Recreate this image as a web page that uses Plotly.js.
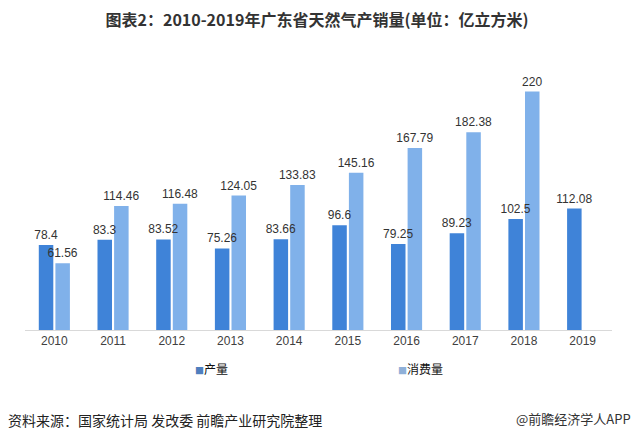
<!DOCTYPE html>
<html>
<head>
<meta charset="utf-8">
<script src="https://cdn.plot.ly/plotly-3.0.1.min.js"></script>
<style>
  html, body { margin: 0; padding: 0; background: #ffffff; }
  #chart { width: 634px; height: 440px; }
</style>
</head>
<body>
<div id="chart"></div>
<script>
// ---- data ----
const years = ['2010','2011','2012','2013','2014','2015','2016','2017','2018','2019'];
const production = [78.4, 83.3, 83.52, 75.26, 83.66, 96.6, 79.25, 89.23, 102.5, 112.08];
const consumption = [61.56, 114.46, 116.48, 124.05, 133.83, 145.16, 167.79, 182.38, 220, null];
const seriesNames = ['产量', '消费量'];
const titleText = '图表2：2010-2019年广东省天然气产销量(单位：亿立方米)';
const sourceText = '资料来源：国家统计局 发改委 前瞻产业研究院整理';
const brandText = '@前瞻经济学人APP';

// ---- layout helpers ----
const W = 634, H = 440;
const M = { l: 25, r: 22, t: 60, b: 110 };
const PW = W - M.l - M.r, PH = H - M.t - M.b;
const px = x => (x - M.l) / PW;
const py = y => (H - M.b - y) / PH;

const cjk = '"Noto Sans CJK SC", "Microsoft YaHei", sans-serif';
const num = '"Liberation Sans Narrow", "Arial Narrow", "Liberation Sans", Arial, sans-serif';
const colProd = '#3f83d8';
const colCons = '#80b1ea';

const fmt = v => (v === null ? '' : String(v));
const labelFont = { family: num, size: 12, color: '#333333' };

// visible bars (no text)
const barTrace = (name, vals, color) => ({
  type: 'bar', name: name, x: years, y: vals,
  marker: { color: color }, hoverinfo: 'x+y', showlegend: false
});
// transparent copies on an overlaid subplot, carrying the value labels on top
const labelTrace = (name, vals) => ({
  type: 'bar', name: name, x: years, y: vals, xaxis: 'x2', yaxis: 'y2',
  marker: { color: 'rgba(0,0,0,0)' },
  text: vals.map(fmt), textposition: 'outside', constraintext: 'none',
  textfont: labelFont, outsidetextfont: labelFont,
  cliponaxis: false, hoverinfo: 'skip', showlegend: false
});

const traces = [
  barTrace(seriesNames[0], production, colProd),
  barTrace(seriesNames[1], consumption, colCons),
  labelTrace(seriesNames[0], production),
  labelTrace(seriesNames[1], consumption)
];

const legendItem = (label, color, x) => ({
  xref: 'paper', yref: 'paper', x: px(x), y: py(368),
  xanchor: 'left', yanchor: 'middle', showarrow: false,
  text: '<span style="color:' + color + ';font-size:9px">■</span>' + label,
  font: { family: cjk, size: 12, color: '#111111' }
});

const yRange = [0, PH / 1.084];

const layout = {
  width: W, height: H,
  margin: M,
  paper_bgcolor: '#ffffff', plot_bgcolor: '#ffffff',
  title: {
    text: '<b>' + titleText + '</b>',
    x: 0.5, xref: 'container', xanchor: 'center',
    y: 1 - 20 / H, yref: 'container', yanchor: 'middle',
    font: { family: cjk, size: 16, color: '#333333' }
  },
  barmode: 'group', bargap: 0.434, bargroupgap: 0.127,
  xaxis: {
    type: 'category', showgrid: false, zeroline: false,
    showline: true, linecolor: '#d9d9d9', linewidth: 1,
    ticks: '', tickfont: { family: num, size: 12, color: '#404040' },
    fixedrange: true
  },
  yaxis: {
    range: yRange, showgrid: false, zeroline: false,
    showline: false, showticklabels: false, ticks: '', fixedrange: true
  },
  xaxis2: {
    type: 'category', overlaying: 'x', matches: 'x', visible: false,
    showgrid: false, zeroline: false, fixedrange: true
  },
  yaxis2: {
    range: yRange, overlaying: 'y', visible: false,
    showgrid: false, zeroline: false, fixedrange: true
  },
  showlegend: false,
  annotations: [
    legendItem(seriesNames[0], '#4f7fbe', 193),
    legendItem(seriesNames[1], '#8fb0d8', 396),
    {
      xref: 'paper', yref: 'paper', x: px(6), y: py(420),
      xanchor: 'left', yanchor: 'middle', showarrow: false,
      text: sourceText, font: { family: cjk, size: 14, color: '#222222' }
    },
    {
      xref: 'paper', yref: 'paper', x: px(633), y: py(418),
      xanchor: 'right', yanchor: 'middle', showarrow: false,
      text: brandText, font: { family: cjk, size: 13, color: '#333333' }
    }
  ]
};

Plotly.newPlot('chart', traces, layout, { displayModeBar: false, staticPlot: true });
</script>
</body>
</html>
